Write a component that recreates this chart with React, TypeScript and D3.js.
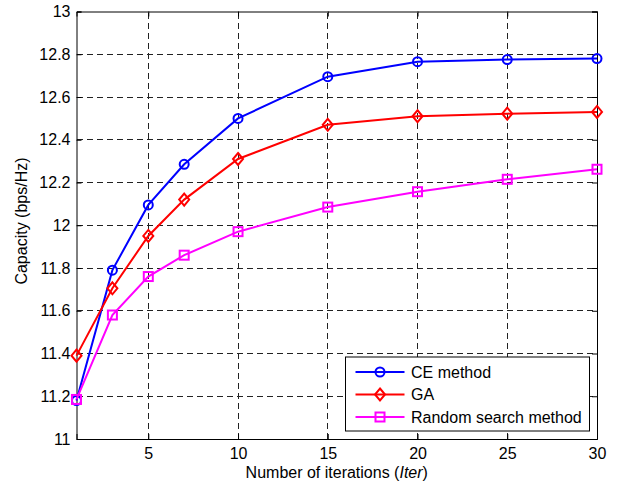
import React, { useEffect, useRef } from "react";
import * as d3 from "d3";

const iterations = [1, 3, 5, 7, 10, 15, 20, 25, 30];
const ceMethod = [11.18, 11.79, 12.095, 12.285, 12.5, 12.695, 12.765, 12.775, 12.78];
const gaMethod = [11.39, 11.705, 11.95, 12.12, 12.31, 12.47, 12.51, 12.522, 12.53];
const randomSearch = [11.185, 11.58, 11.76, 11.86, 11.97, 12.085, 12.157, 12.215, 12.262];
const seriesNames = ["CE method", "GA", "Random search method"];
const xTicks = [5, 10, 15, 20, 25, 30];
const yTicks = [11, 11.2, 11.4, 11.6, 11.8, 12, 12.2, 12.4, 12.6, 12.8, 13];

const colors = ["#0000ff", "#ff0000", "#ff00ff"];
const markers = ["circle", "diamond", "square"];

export default function App() {
  const svgRef = useRef<SVGSVGElement>(null);

  useEffect(() => {
    const w = 619;
    const h = 483;
    const m = { left: 76.5, right: 22, top: 11.5, bottom: 44 };
    const svg = d3.select(svgRef.current).attr("width", w).attr("height", h);
    svg.selectAll("*").remove();

    const font = "Liberation Sans, Arial, Helvetica, sans-serif";

    // scales
    const x = d3.scaleLinear().domain([1, 30]).range([m.left, w - m.right]);
    const y = d3.scaleLinear().domain([11, 13]).range([h - m.bottom, m.top]);

    svg.append("rect").attr("width", w).attr("height", h).attr("fill", "#fff");

    // grid
    const grid = svg
      .append("g")
      .attr("stroke", "#222")
      .attr("stroke-width", 1)
      .attr("shape-rendering", "crispEdges")
      .attr("stroke-dasharray", "6,4");
    grid
      .selectAll(".gx")
      .data(xTicks.filter((t) => t < 30))
      .enter()
      .append("line")
      .attr("x1", (d) => x(d))
      .attr("x2", (d) => x(d))
      .attr("y1", y(11))
      .attr("y2", y(13));
    grid
      .selectAll(".gy")
      .data(yTicks.filter((t) => t > 11 && t < 13))
      .enter()
      .append("line")
      .attr("x1", x(1))
      .attr("x2", x(30))
      .attr("y1", (d) => y(d))
      .attr("y2", (d) => y(d));

    // axes (MATLAB style box with inward ticks)
    const bottomAxis = d3.axisBottom(x).tickValues(xTicks).tickSize(-5).tickPadding(9).tickFormat(d3.format("d"));
    const topAxis = d3.axisTop(x).tickValues(xTicks).tickSize(-5).tickFormat(() => "");
    const leftAxis = d3.axisLeft(y).tickValues(yTicks).tickSize(-5).tickPadding(6).tickFormat((d) => String(d));
    const rightAxis = d3.axisRight(y).tickValues(yTicks).tickSize(-5).tickFormat(() => "");

    const gb = svg.append("g").attr("transform", `translate(0,${y(11)})`).call(bottomAxis);
    const gt = svg.append("g").attr("transform", `translate(0,${y(13)})`).call(topAxis);
    const gl = svg.append("g").attr("transform", `translate(${x(1)},0)`).call(leftAxis);
    const gr = svg.append("g").attr("transform", `translate(${x(30)},0)`).call(rightAxis);
    [gb, gt, gl, gr].forEach((g) => {
      g.select(".domain").attr("stroke", "#000").attr("stroke-width", 1);
      g.selectAll(".tick line").attr("stroke", "#000");
      g.selectAll("text").attr("font-family", font).attr("font-size", 16).attr("fill", "#000");
    });

    // series
    const allData = [ceMethod, gaMethod, randomSearch];
    const line = d3
      .line<number>()
      .x((d, i) => x(iterations[i]))
      .y((d) => y(d));

    const drawMarker = (g, type, color, cx, cy) => {
      if (type === "circle") {
        g.append("circle").attr("cx", cx).attr("cy", cy).attr("r", 4.5)
          .attr("fill", "none").attr("stroke", color).attr("stroke-width", 2);
      } else if (type === "diamond") {
        g.append("path")
          .attr("d", `M${cx},${cy - 6}L${cx + 5},${cy}L${cx},${cy + 6}L${cx - 5},${cy}Z`)
          .attr("fill", "none").attr("stroke", color).attr("stroke-width", 2);
      } else {
        g.append("rect").attr("x", cx - 4.5).attr("y", cy - 4.5).attr("width", 9).attr("height", 9)
          .attr("fill", "none").attr("stroke", color).attr("stroke-width", 2);
      }
    };

    allData.forEach((series, si) => {
      const g = svg.append("g");
      g.append("path")
        .datum(series)
        .attr("fill", "none")
        .attr("stroke", colors[si])
        .attr("stroke-width", 2)
        .attr("d", line);
      series.forEach((v, i) => drawMarker(g, markers[si], colors[si], x(iterations[i]), y(v)));
    });

    // legend
    const lg = svg.append("g").attr("transform", "translate(345.5,357)");
    lg.append("rect").attr("width", 244).attr("height", 74).attr("fill", "#fff").attr("stroke", "#000").attr("stroke-width", 1);
    seriesNames.forEach((name, i) => {
      const ly = 15 + i * 22.5;
      lg.append("line").attr("x1", 10).attr("x2", 59).attr("y1", ly).attr("y2", ly)
        .attr("stroke", colors[i]).attr("stroke-width", 2);
      drawMarker(lg, markers[i], colors[i], 34.5, ly);
      lg.append("text").attr("x", 65.5).attr("y", ly + 5.5).text(name)
        .attr("font-family", font).attr("font-size", 16).attr("fill", "#000");
    });

    // axis labels
    const xl = svg.append("text")
      .attr("x", (x(1) + x(30)) / 2)
      .attr("y", 478)
      .attr("text-anchor", "middle")
      .attr("font-family", font)
      .attr("font-size", 16)
      .attr("fill", "#000");
    xl.append("tspan").text("Number of iterations (");
    xl.append("tspan").attr("font-style", "italic").text("Iter");
    xl.append("tspan").text(")");

    svg.append("text")
      .attr("transform", "translate(27,221) rotate(-90)")
      .attr("text-anchor", "middle")
      .attr("font-family", font)
      .attr("font-size", 16)
      .attr("fill", "#000")
      .text("Capacity (bps/Hz)");
  }, []);

  return (
    <div style={{ position: "absolute", left: 0, top: 0 }}>
      <svg ref={svgRef} style={{ display: "block" }}></svg>
    </div>
  );
}
